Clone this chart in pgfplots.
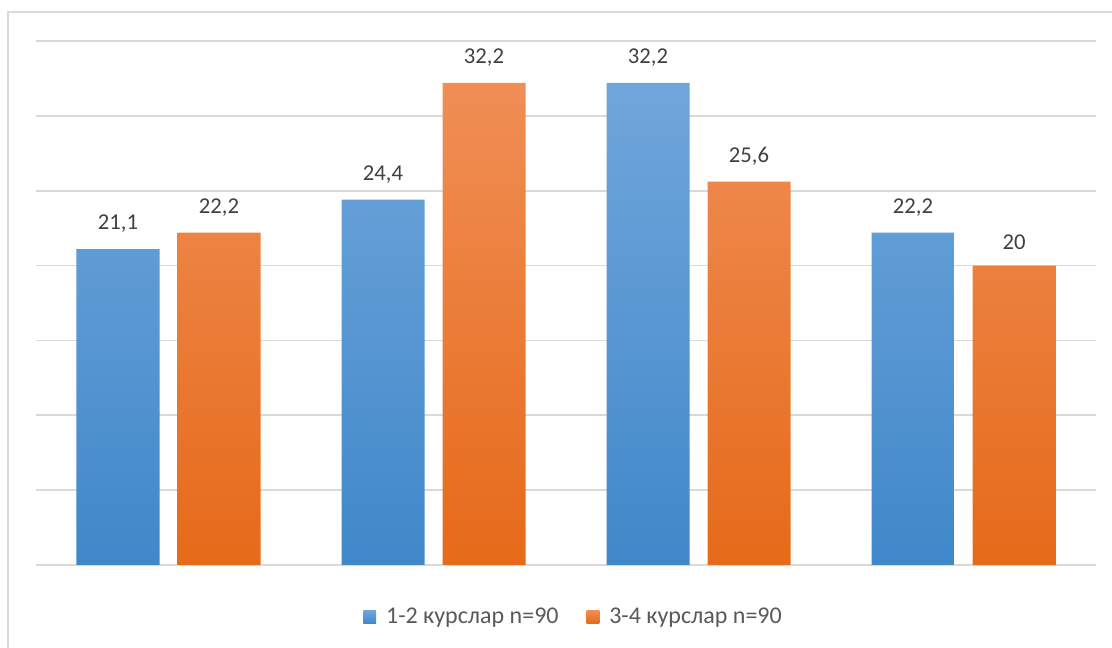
\documentclass[border=0pt]{standalone}
\usepackage{fontspec}
\setmainfont{Carlito}
\usepackage{pgfplots}
\pgfplotsset{compat=1.18}
\definecolor{gridc}{HTML}{D9D9D9}
\definecolor{bluetop}{HTML}{70A6DB}
\definecolor{bluebot}{HTML}{4088CA}
\definecolor{orgtop}{HTML}{F08E56}
\definecolor{orgbot}{HTML}{E66A19}
\definecolor{labc}{HTML}{404040}
\definecolor{legc}{HTML}{595959}
\begin{document}
\begin{tikzpicture}
\useasboundingbox (0,0) rectangle (834pt,486pt);
\draw[gridc, line width=1.5pt] (6pt,-5pt) -- (6pt,477pt) -- (840pt,477pt);
\begin{axis}[
  at={(27pt,62.25pt)}, anchor=south west,
  scale only axis, width=795pt, height=393pt,
  ybar=13.5pt, bar width=62.25pt,
  xmin=-0.5, xmax=3.5, ymin=0, ymax=35,
  xtick=\empty, ytick={0,5,...,35}, yticklabels={},
  major tick length=0pt,
  ymajorgrids, grid style={gridc, line width=1.2pt},
  axis line style={draw=none},
  clip=false,
  /pgf/number format/assume math mode=true,
  /pgf/number format/use comma,
  nodes near coords,
  nodes near coords style={font=\fontsize{17}{20}\selectfont, text=labc, anchor=south, inner sep=0pt, yshift=12pt},
  legend style={at={(0.5075,-0.099)}, anchor=center, draw=none, fill=none,
    font=\fontsize{18}{21}\selectfont, text=legc,
    /tikz/every even column/.append style={column sep=19pt}},
  legend columns=2,
  legend image code/.code={\fill[#1] (0pt,-4.75pt) rectangle (9.5pt,4.75pt); \path (0pt,0pt) -- (15pt,0pt);},
]
\addplot[draw=none, top color=bluetop, bottom color=bluebot] coordinates {(0,21.1) (1,24.4) (2,32.2) (3,22.2)};
\addplot[draw=none, top color=orgtop, bottom color=orgbot] coordinates {(0,22.2) (1,32.2) (2,25.6) (3,20)};
\legend{1-2 курслар n=90, 3-4 курслар n=90}
\end{axis}
\end{tikzpicture}
\end{document}
